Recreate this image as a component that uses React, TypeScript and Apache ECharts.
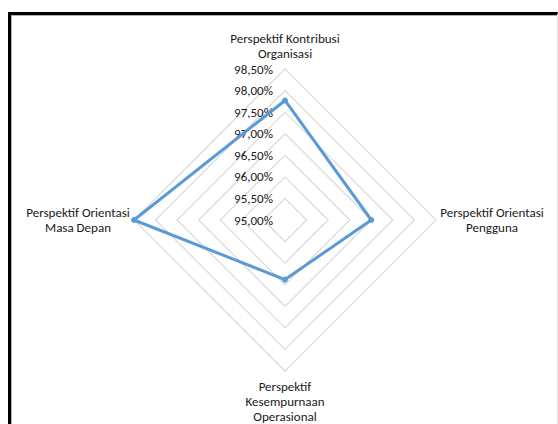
import React, { useEffect, useRef } from "react";
import * as echarts from "echarts";

const indicatorNames = [
  "Perspektif Kontribusi\nOrganisasi",
  "Perspektif Orientasi\nMasa Depan",
  "Perspektif\nKesempurnaan\nOperasional",
  "Perspektif Orientasi\nPengguna",
];
const values = [97.77, 98.5, 96.38, 97.0];
const axisMin = 95;
const axisMax = 98.5;
const splitCount = 7;

const FONT = "Carlito, 'Liberation Sans Narrow', 'Open Sans', sans-serif";

export default function App() {
  const ref = useRef<HTMLDivElement>(null);
  useEffect(() => {
    document.body.style.margin = "0";
    const chart = echarts.init(ref.current!, undefined, { renderer: "svg" });
    chart.setOption({
      animation: false,
      backgroundColor: "transparent",
      radar: {
        center: [285, 220],
        radius: 151,
        startAngle: 90,
        shape: "polygon",
        splitNumber: splitCount,
        axisLine: { show: false },
        axisTick: { show: false },
        splitArea: { show: false },
        splitLine: { lineStyle: { color: "#dcdcdc", width: 1.3 } },
        axisLabel: { show: false },
        axisNameGap: 4,
        axisName: {
          color: "#1a1a1a",
          fontFamily: FONT,
          fontSize: 13,
          padding: [4, 0, 4, 0],
          formatter: (name: string) =>
            name
              .split("\n")
              .map((l) => `{n|${l}}`)
              .join("\n"),
          rich: {
            n: {
              width: 104,
              align: "center",
              fontFamily: FONT,
              fontSize: 13,
              lineHeight: 15,
              color: "#1a1a1a",
            },
          },
        },
        indicator: indicatorNames.map((name, i) => ({
          name,
          min: axisMin,
          max: axisMax,
          ...(i === 0
            ? {
                axisLabel: {
                  show: true,
                  margin: 12,
                  color: "#1a1a1a",
                  fontFamily: FONT,
                  fontSize: 13,
                  formatter: (v: number) => v.toFixed(2).replace(".", ",") + "%",
                },
              }
            : {}),
        })),
      },
      series: [
        {
          type: "radar",
          symbol: "circle",
          symbolSize: 6,
          lineStyle: { color: "#5b9bd5", width: 3 },
          itemStyle: { color: "#5b9bd5" },
          data: [{ value: values }],
        },
      ],
    });
    return () => chart.dispose();
  }, []);
  return (
    <div style={{ position: "relative", width: 558, height: 424, overflow: "hidden", background: "#fff" }}>
      <div
        style={{
          position: "absolute",
          left: 8,
          top: 12,
          width: 546,
          height: 420,
          borderLeft: "3px solid #000",
          borderTop: "3px solid #000",
          borderRight: "1px solid #e4e4e4",
          boxShadow: "inset 1px 1px 0 #b0b0b0",
        }}
      />
      <div ref={ref} style={{ position: "absolute", left: 0, top: 0, width: 558, height: 424 }} />
    </div>
  );
}
